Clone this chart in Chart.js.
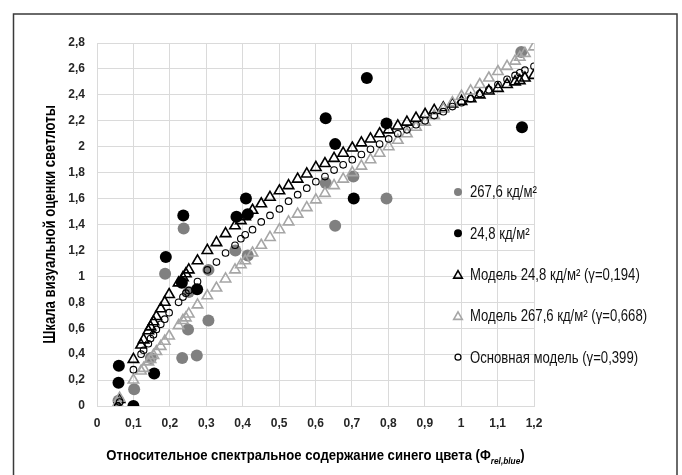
<!DOCTYPE html>
<html>
<head>
<meta charset="utf-8">
<script src="https://cdn.jsdelivr.net/npm/chart.js"></script>
<style>
  body { margin: 0; background: #fff; }
  #wrap { width: 682px; height: 475px; }
</style>
</head>
<body>
<div id="wrap"><canvas id="myChart" width="682" height="475"></canvas></div>
<script>
// measured points, 267,6 cd/m2 (grey dots)
var highX = [0.059, 0.102, 0.148, 0.187, 0.234, 0.238, 0.250, 0.252, 0.274, 0.306, 0.306, 0.380, 0.414, 0.628, 0.654, 0.704, 0.795, 1.165];
var highY = [0.04, 0.13, 0.37, 1.02, 0.37, 1.37, 0.59, 0.88, 0.39, 0.66, 1.05, 1.20, 1.16, 1.72, 1.39, 1.77, 1.60, 2.73];

// measured points, 24,8 cd/m2 (black dots)
var lowX = [0.059, 0.060, 0.100, 0.157, 0.189, 0.237, 0.233, 0.275, 0.383, 0.409, 0.414, 0.628, 0.654, 0.705, 0.741, 0.795, 1.167];
var lowY = [0.18, 0.31, 0.00, 0.25, 1.15, 1.47, 0.95, 0.90, 1.46, 1.60, 1.48, 2.22, 2.02, 1.60, 2.53, 2.18, 2.15];

// model curves, all three share the same x positions
var modelX = [0.057, 0.062, 0.100, 0.121, 0.128, 0.141, 0.147, 0.155, 0.163, 0.175, 0.186, 0.198,
  0.224, 0.236, 0.244, 0.252, 0.276, 0.303, 0.328, 0.353, 0.379, 0.395, 0.407, 0.427, 0.451, 0.475,
  0.501, 0.526, 0.551, 0.576, 0.601, 0.626, 0.651, 0.676, 0.701, 0.726, 0.751, 0.776, 0.801, 0.826,
  0.851, 0.876, 0.901, 0.926, 0.951, 0.976, 1.001, 1.026, 1.051, 1.076, 1.101, 1.126, 1.148, 1.161,
  1.175, 1.200];
var modelLow = [0.00, 0.05, 0.36, 0.47, 0.51, 0.58, 0.61, 0.65, 0.69, 0.75, 0.80, 0.86,
  0.95, 0.99, 1.02, 1.05, 1.12, 1.20, 1.26, 1.33, 1.39, 1.43, 1.46, 1.51, 1.56, 1.61,
  1.66, 1.70, 1.75, 1.79, 1.84, 1.87, 1.91, 1.95, 1.99, 2.03, 2.06, 2.10, 2.13, 2.16,
  2.19, 2.22, 2.25, 2.28, 2.30, 2.33, 2.35, 2.37, 2.40, 2.43, 2.45, 2.48, 2.50, 2.51,
  2.53, 2.55];
var modelHigh = [0.02, 0.06, 0.20, 0.27, 0.29, 0.34, 0.36, 0.39, 0.42, 0.46, 0.50, 0.54,
  0.62, 0.66, 0.68, 0.71, 0.78, 0.85, 0.91, 0.98, 1.05, 1.09, 1.12, 1.18, 1.24, 1.30,
  1.36, 1.42, 1.48, 1.53, 1.59, 1.64, 1.70, 1.75, 1.80, 1.85, 1.90, 1.95, 2.00, 2.05,
  2.10, 2.15, 2.19, 2.24, 2.29, 2.34, 2.39, 2.43, 2.48, 2.53, 2.58, 2.62, 2.66, 2.69,
  2.72, 2.77];
var modelBase = [0.00, 0.03, 0.28, 0.40, 0.43, 0.48, 0.52, 0.55, 0.59, 0.63, 0.67, 0.72,
  0.80, 0.84, 0.87, 0.89, 0.96, 1.05, 1.11, 1.18, 1.24, 1.29, 1.32, 1.36, 1.42, 1.47,
  1.52, 1.58, 1.63, 1.68, 1.73, 1.77, 1.82, 1.86, 1.90, 1.94, 1.98, 2.02, 2.06, 2.10,
  2.13, 2.17, 2.20, 2.24, 2.27, 2.31, 2.34, 2.37, 2.41, 2.44, 2.48, 2.52, 2.55, 2.57,
  2.59, 2.62];

var seriesLabels = ['267,6 кд/м²', '24,8 кд/м²', 'Модель 24,8 кд/м² (γ=0,194)',
  'Модель 267,6 кд/м² (γ=0,668)', 'Основная модель (γ=0,399)'];
var yTitle = 'Шкала визуальной оценки светлоты';
var xTitle = 'Относительное спектральное содержание синего цвета (Φ';
var xTitleSub = 'rel,blue';

var sans = "'Liberation Sans', Arial, sans-serif";
var squeeze = 0.82; // narrow face look

function pts(xs, ys) {
  return xs.map(function(x, i) { return {x: x, y: ys[i]}; });
}
function fmt(v) {
  return String(Math.round(v * 10) / 10).replace('.', ',');
}

// legend, frame and axis titles (condensed text, subscript)
var extras = {
  id: 'extras',
  afterDraw: function(chart) {
    var ctx = chart.ctx;
    var area = chart.chartArea;
    ctx.save();
    // outer frame, open at the bottom edge of the picture
    ctx.strokeStyle = '#3a3a3a';
    ctx.lineWidth = 1.5;
    ctx.beginPath();
    ctx.moveTo(13.5, 476);
    ctx.lineTo(13.5, 14);
    ctx.lineTo(677, 14);
    ctx.lineTo(677, 476);
    ctx.stroke();

    ctx.fillStyle = '#000';
    ctx.textBaseline = 'middle';
    ctx.textAlign = 'left';

    // y title
    ctx.save();
    ctx.font = 'bold 16px ' + sans;
    var wy = ctx.measureText(yTitle).width;
    ctx.translate(51, (area.top + area.bottom) / 2);
    ctx.rotate(-Math.PI / 2);
    ctx.scale(squeeze, 1);
    ctx.fillText(yTitle, -wy / 2, 0);
    ctx.restore();

    // x title
    var xs = 0.875;
    ctx.font = 'bold 15px ' + sans;
    var w1 = ctx.measureText(xTitle).width;
    var w3 = ctx.measureText(')').width;
    ctx.font = 'italic bold 9.5px ' + sans;
    var w2 = ctx.measureText(xTitleSub).width;
    var total = (w1 + w2 + w3) * xs;
    ctx.save();
    ctx.translate((area.left + area.right) / 2 - total / 2, 456);
    ctx.scale(xs, 1);
    ctx.font = 'bold 15px ' + sans;
    ctx.fillText(xTitle, 0, 0);
    ctx.font = 'italic bold 9.5px ' + sans;
    ctx.fillText(xTitleSub, w1, 5);
    ctx.font = 'bold 15px ' + sans;
    ctx.fillText(')', w1 + w2, 0);
    ctx.restore();

    // legend
    var lx = 458, ly = 192, step = 41.3;
    for (var i = 0; i < seriesLabels.length; i++) {
      var y = ly + i * step;
      ctx.beginPath();
      if (i === 0 || i === 1) {
        ctx.fillStyle = i === 0 ? '#808080' : '#000';
        ctx.arc(lx, y, 4, 0, Math.PI * 2);
        ctx.fill();
      } else if (i === 2 || i === 3) {
        ctx.strokeStyle = i === 2 ? '#000' : '#a6a6a6';
        ctx.lineWidth = 1.6;
        ctx.moveTo(lx, y - 4);
        ctx.lineTo(lx + 4.3, y + 3.5);
        ctx.lineTo(lx - 4.3, y + 3.5);
        ctx.closePath();
        ctx.stroke();
      } else {
        ctx.strokeStyle = '#000';
        ctx.lineWidth = 1.2;
        ctx.arc(lx, y, 3, 0, Math.PI * 2);
        ctx.stroke();
      }
      ctx.save();
      ctx.translate(lx + 12, y + 1);
      ctx.scale(squeeze, 1);
      ctx.fillStyle = '#111';
      ctx.font = '16px ' + sans;
      ctx.fillText(seriesLabels[i], 0, 0);
      ctx.restore();
    }
    ctx.restore();
  }
};

var ctx = document.getElementById('myChart').getContext('2d');
var myChart = new Chart(ctx, {
  type: 'scatter',
  data: {
    datasets: [{
      label: seriesLabels[0],
      data: pts(highX, highY),
      pointStyle: 'circle',
      radius: 6,
      backgroundColor: '#808080',
      borderColor: '#808080',
      borderWidth: 0,
      order: 5
    },
    {
      label: seriesLabels[1],
      data: pts(lowX, lowY),
      pointStyle: 'circle',
      radius: 6,
      backgroundColor: '#000',
      borderColor: '#000',
      borderWidth: 0,
      order: 4
    },
    {
      label: seriesLabels[2],
      data: pts(modelX, modelLow),
      pointStyle: 'triangle',
      radius: 6,
      backgroundColor: 'rgba(0,0,0,0)',
      borderColor: '#000',
      borderWidth: 1.6,
      order: 3
    },
    {
      label: seriesLabels[3],
      data: pts(modelX, modelHigh),
      pointStyle: 'triangle',
      radius: 6,
      backgroundColor: 'rgba(0,0,0,0)',
      borderColor: '#a6a6a6',
      borderWidth: 1.6,
      order: 2
    },
    {
      label: seriesLabels[4],
      data: pts(modelX, modelBase),
      pointStyle: 'circle',
      radius: 3.3,
      backgroundColor: 'rgba(0,0,0,0)',
      borderColor: '#000',
      borderWidth: 1.1,
      order: 1
    }]
  },
  options: {
    responsive: false,
    animation: false,
    layout: {
      padding: { left: 0, top: 43, right: 148, bottom: 0 }
    },
    plugins: {
      legend: { display: false },
      tooltip: { enabled: false }
    },
    scales: {
      x: {
        type: 'linear',
        min: 0,
        max: 1.2,
        afterFit: function(scale) { scale.height = 69; },
        grid: { color: '#dadada', drawTicks: false },
        border: { color: '#dadada' },
        ticks: {
          stepSize: 0.1,
          padding: 10,
          color: '#262626',
          font: { family: sans, size: 12, weight: 'bold' },
          callback: function(v) { return fmt(v); }
        }
      },
      y: {
        min: 0,
        max: 2.8,
        afterFit: function(scale) { scale.width = 97; },
        grid: { color: '#dadada', drawTicks: false },
        border: { color: '#dadada' },
        ticks: {
          stepSize: 0.2,
          padding: 12,
          color: '#262626',
          font: { family: sans, size: 12, weight: 'bold' },
          callback: function(v) { return fmt(v); }
        }
      }
    }
  },
  plugins: [extras]
});
</script>
</body>
</html>
